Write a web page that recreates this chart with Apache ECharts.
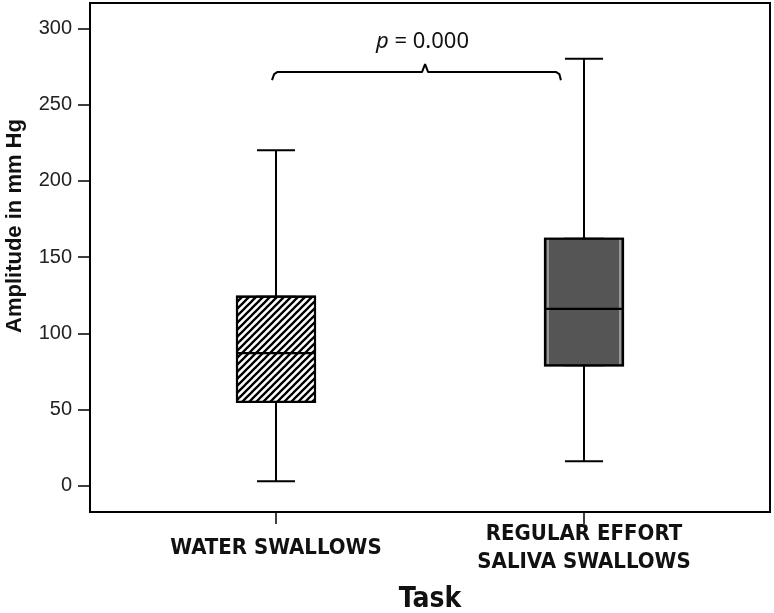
<!DOCTYPE html>
<html>
<head>
<meta charset="utf-8">
<script src="https://cdn.jsdelivr.net/npm/echarts@6/dist/echarts.min.js"></script>
<style>
  html, body { margin: 0; padding: 0; background: #fff; }
  #chart { width: 774px; height: 613px; }
</style>
</head>
<body>
<div id="chart"></div>
<script>
const categories = ["WATER SWALLOWS", "REGULAR EFFORT\nSALIVA SWALLOWS"];
// [min, Q1, median, Q3, max] in mm Hg
const waterSwallows = [3, 55, 87, 124, 220];
const salivaSwallows = [16, 79, 116, 162, 280];
const yTicks = [0, 50, 100, 150, 200, 250, 300];
const pValue = "0.000";
// brace over the two groups: [category position, mm Hg]
const bracePoints = [
  [-0.013, 266], [-0.006, 270], [0.004, 271.3], [0.474, 271.3], [0.484, 276.5],
  [0.494, 271.3], [0.91, 271.3], [0.92, 270], [0.925, 266],
];

const narrow = "'Liberation Sans Narrow', 'DejaVu Sans Condensed', sans-serif";
const sans = "'Liberation Sans', Arial, sans-serif";

// diagonal hatch for the water box
function hatch() {
  const c = document.createElement("canvas");
  c.width = 7;
  c.height = 7;
  const ctx = c.getContext("2d");
  ctx.fillStyle = "#fff";
  ctx.fillRect(0, 0, 7, 7);
  ctx.strokeStyle = "#000";
  ctx.lineWidth = 2.3;
  ctx.beginPath();
  ctx.moveTo(-1, 8); ctx.lineTo(8, -1);
  ctx.moveTo(-2, 2); ctx.lineTo(2, -2);
  ctx.moveTo(5, 9); ctx.lineTo(9, 5);
  ctx.stroke();
  return c;
}

const groups = [waterSwallows, salivaSwallows];
const boxOnly = (s) => [s[1], s[1], s[2], s[3], s[3]];

// each boxplot layer gets its own hidden category axis so they overlap instead of dodging
const hiddenCat = { type: "category", data: categories, show: false, axisLine: { onZero: false } };

const chart = echarts.init(document.getElementById("chart"));
chart.setOption({
  animation: false,
  title: {
    text: "{i|p} = " + pValue,
    left: 371,
    top: 26,
    textStyle: {
      fontFamily: "'Noto Sans', sans-serif",
      fontSize: 22,
      fontWeight: "normal",
      color: "#111",
      rich: {
        i: { fontStyle: "italic", fontFamily: "'Noto Sans', sans-serif", fontSize: 22, color: "#111" },
      },
    },
  },
  grid: { left: 122, right: 36, top: 3, bottom: 101, outerBoundsMode: "none" },
  xAxis: [
    {
      type: "category",
      data: categories,
      axisLine: { show: false, onZero: false },
      axisTick: { show: true, alignWithLabel: true, length: 12, lineStyle: { color: "#000", width: 1.5 } },
      axisLabel: {
        interval: 0,
        margin: 36,
        verticalAlign: "middle",
        lineHeight: 28,
        fontFamily: narrow,
        fontSize: 22,
        fontWeight: "bold",
        color: "#111",
      },
      name: "Task",
      nameLocation: "middle",
      nameGap: 74,
      nameTextStyle: { fontFamily: narrow, fontSize: 28, fontWeight: "bold", color: "#111" },
    },
    { type: "value", min: -0.5, max: 1.5, show: false, axisLine: { onZero: false } },
    hiddenCat,
    hiddenCat,
    hiddenCat,
  ],
  yAxis: {
    type: "value",
    min: -17.2,
    max: 316.6,
    offset: 32,
    axisLine: { show: true, onZero: false, lineStyle: { color: "#000", width: 2 } },
    axisTick: { show: true, customValues: yTicks, length: 12, lineStyle: { color: "#000", width: 1.5 } },
    axisLabel: { customValues: yTicks, margin: 18, fontFamily: sans, fontSize: 20, color: "#222" },
    splitLine: { show: false },
  },
  graphic: [
    {
      type: "rect",
      shape: { x: 90, y: 3, width: 680, height: 509 },
      style: { fill: "none", stroke: "#000", lineWidth: 2 },
      silent: true,
    },
    {
      type: "text",
      x: 15,
      y: 226,
      rotation: Math.PI / 2,
      style: {
        text: "Amplitude in mm Hg",
        fontFamily: "Liberation Sans",
        fontSize: 22,
        fontWeight: "bold",
        fill: "#111",
        textAlign: "center",
        textVerticalAlign: "middle",
      },
      silent: true,
    },
  ],
  series: [
    {
      // whiskers with short caps
      type: "boxplot",
      xAxisIndex: 0,
      boxWidth: [38, 38],
      silent: true,
      itemStyle: { color: "#fff", borderColor: "#000", borderWidth: 2 },
      data: groups,
    },
    {
      type: "boxplot",
      xAxisIndex: 2,
      boxWidth: [78, 78],
      silent: true,
      data: [
        { value: boxOnly(waterSwallows), itemStyle: { color: { image: hatch(), repeat: "repeat" }, borderColor: "#000", borderWidth: 2 } },
        { value: boxOnly(salivaSwallows), itemStyle: { color: "#555", borderColor: "#000", borderWidth: 2 } },
      ],
    },
    {
      // light inner edge of the saliva box
      type: "boxplot",
      xAxisIndex: 3,
      boxWidth: [72, 72],
      silent: true,
      data: [
        { value: boxOnly(waterSwallows), itemStyle: { color: "transparent", borderColor: "transparent" } },
        { value: boxOnly(salivaSwallows), itemStyle: { color: "transparent", borderColor: "#c4c4c4", borderWidth: 1.2 } },
      ],
    },
    {
      type: "boxplot",
      xAxisIndex: 4,
      boxWidth: [78, 78],
      silent: true,
      itemStyle: { color: "transparent", borderColor: "#000", borderWidth: 2.2 },
      data: groups.map(boxOnly),
    },
    {
      type: "line",
      xAxisIndex: 1,
      data: bracePoints,
      symbol: "none",
      silent: true,
      lineStyle: { color: "#000", width: 2 },
    },
  ],
});
</script>
</body>
</html>
